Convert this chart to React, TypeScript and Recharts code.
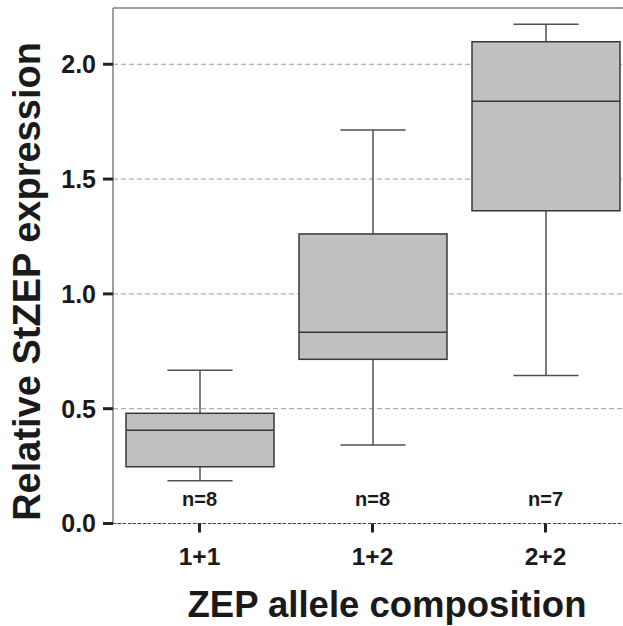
import React from 'react';
import {
  ComposedChart,
  Bar,
  XAxis,
  YAxis,
  CartesianGrid,
  ReferenceLine,
} from 'recharts';

// values (relative StZEP expression)
const groups = ['1+1', '1+2', '2+2'];
const mins = [0.186, 0.342, 0.645];
const q1s = [0.247, 0.715, 1.362];
const medians = [0.406, 0.833, 1.839];
const q3s = [0.48, 1.261, 2.098];
const maxes = [0.667, 1.714, 2.174];
const counts = [8, 8, 7];
const yTicks = [0, 0.5, 1.0, 1.5, 2.0];
const yMax = 2.245;

const data = groups.map((g, i) => ({
  group: g,
  range: [mins[i], maxes[i]],
  min: mins[i],
  q1: q1s[i],
  median: medians[i],
  q3: q3s[i],
  max: maxes[i],
  n: counts[i],
}));

const FONT = '"Liberation Sans", Arial, sans-serif';
const INK = '#1a1a1a';

// the bar spans min..max, so its pixel extent gives the y scale for the box parts
const BoxShape = (props: any) => {
  const { x, y, width, height, payload } = props;
  const top = Math.min(y, y + height);
  const bottom = Math.max(y, y + height);
  const px = (v: number) =>
    bottom - ((v - payload.min) / (payload.max - payload.min)) * (bottom - top);
  const cx = x + width / 2;
  const capHalf = width * 0.22;
  return (
    <g>
      <line x1={cx} x2={cx} y1={px(payload.max)} y2={px(payload.q3)} stroke="#505050" strokeWidth={1.5} />
      <line x1={cx} x2={cx} y1={px(payload.q1)} y2={px(payload.min)} stroke="#505050" strokeWidth={1.5} />
      <line x1={cx - capHalf} x2={cx + capHalf} y1={px(payload.max)} y2={px(payload.max)} stroke="#505050" strokeWidth={1.5} />
      <line x1={cx - capHalf} x2={cx + capHalf} y1={px(payload.min)} y2={px(payload.min)} stroke="#505050" strokeWidth={1.5} />
      <rect
        x={x}
        y={px(payload.q3)}
        width={width}
        height={px(payload.q1) - px(payload.q3)}
        fill="#c0c0c0"
        stroke="#383838"
        strokeWidth={1.5}
      />
      <line x1={x} x2={x + width} y1={px(payload.median)} y2={px(payload.median)} stroke="#383838" strokeWidth={1.5} />
    </g>
  );
};

const GroupTick = (props: any) => {
  const { x, y, payload, index } = props;
  return (
    <g>
      <text x={x} y={y - 29} textAnchor="middle" fontFamily={FONT} fontWeight="bold" fontSize={20} fill={INK}>
        {`n=${counts[index]}`}
      </text>
      <text x={x} y={y + 30} textAnchor="middle" fontFamily={FONT} fontWeight="bold" fontSize={24.5} fill={INK}>
        {payload.value}
      </text>
    </g>
  );
};

const XTitle = () => (
  <text x={387} y={617} textAnchor="middle" fontFamily={FONT} fontWeight="bold" fontSize={36.5} fill={INK}>
    ZEP allele composition
  </text>
);

const YTitle = () => (
  <text
    x={0}
    y={0}
    transform="translate(40,281.5) rotate(-90)"
    textAnchor="middle"
    fontFamily={FONT}
    fontWeight="bold"
    fontSize={38}
    fill={INK}
  >
    Relative StZEP expression
  </text>
);

export default function App() {
  return (
    <div
      style={{
        position: 'absolute',
        left: 0,
        top: 0,
        width: 623,
        height: 626,
        overflow: 'hidden',
        background: '#fff',
      }}
    >
      <ComposedChart
        width={632}
        height={626}
        data={data}
        margin={{ top: 8, right: 0, bottom: 0, left: 0 }}
      >
        <CartesianGrid vertical={false} stroke="#9a9a9a" strokeDasharray="5 3" />
        <XAxis
          dataKey="group"
          height={102.5}
          tickSize={9}
          tickMargin={2}
          tickLine={{ stroke: '#222', strokeWidth: 3 }}
          axisLine={{ stroke: '#444', strokeDasharray: '3 2' }}
          tick={<GroupTick />}
          label={<XTitle />}
        />
        <YAxis
          type="number"
          domain={[0, yMax]}
          ticks={yTicks}
          allowDataOverflow
          width={113}
          tickSize={10}
          tickMargin={7}
          tickFormatter={(v: number) => v.toFixed(1)}
          tickLine={{ stroke: '#222', strokeWidth: 3 }}
          axisLine={{ stroke: '#808080', strokeWidth: 1.5 }}
          tick={{ fontFamily: FONT, fontWeight: 'bold', fontSize: 25, fill: INK }}
          label={<YTitle />}
        />
        <ReferenceLine y={yMax} stroke="#8a8a8a" strokeWidth={1.5} />
        <Bar dataKey="range" barSize={148} shape={<BoxShape />} isAnimationActive={false} />
      </ComposedChart>
    </div>
  );
}
